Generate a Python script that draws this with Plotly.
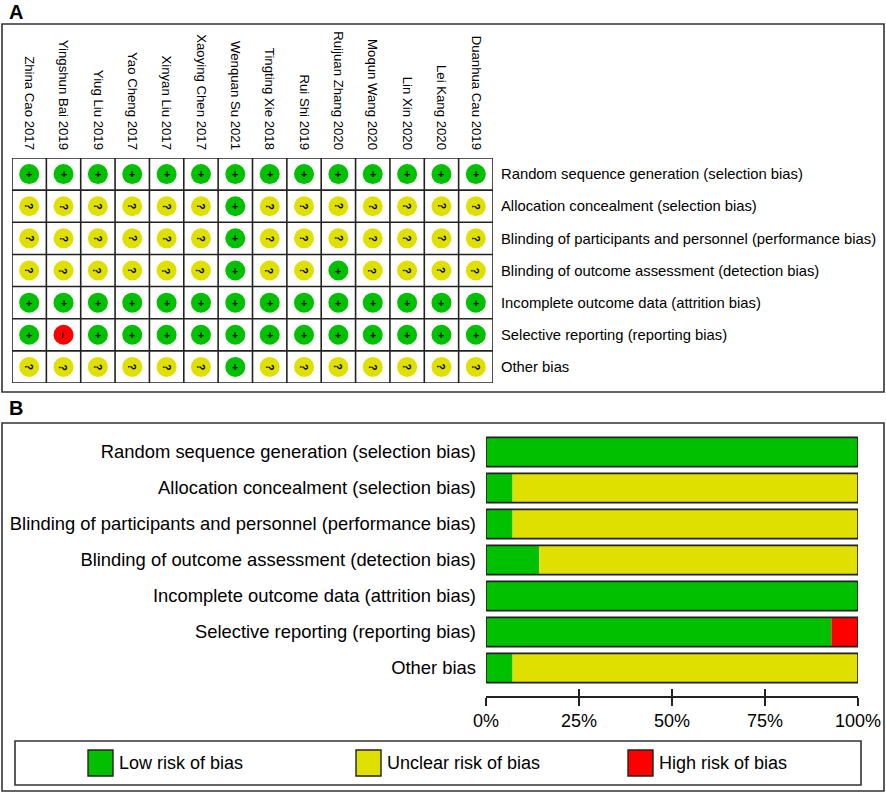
import plotly.graph_objects as go

W, H = 886, 793

studies = ["Zhina Cao 2017", "Yingshun Bai 2019", "Yiug Liu 2019", "Yao Cheng 2017",
           "Xinyan Liu 2017", "Xaoying Chen 2017", "Wenquan Su 2021", "Tingting Xie 2018",
           "Rui Shi 2019", "Ruijuan Zhang 2020", "Moqun Wang 2020", "Lin Xin 2020",
           "Lei Kang 2020", "Duanhua Cau 2019"]

domains = ["Random sequence generation (selection bias)",
           "Allocation concealment (selection bias)",
           "Blinding of participants and personnel (performance bias)",
           "Blinding of outcome assessment (detection bias)",
           "Incomplete outcome data (attrition bias)",
           "Selective reporting (reporting bias)",
           "Other bias"]

# judgements per domain, one entry per study (same order as studies)
random_seq   = list("++++++++++++++")
allocation   = list("??????+???????")
blind_part   = list("??????+???????")
blind_outc   = list("??????+??+????")
incomplete   = list("++++++++++++++")
selective    = list("+-++++++++++++")
other        = list("??????+???????")

grid = [random_seq, allocation, blind_part, blind_outc, incomplete, selective, other]

GREEN = "#00c000"
YELLOW = "#e0e000"
RED = "#ff0000"
colour = {"+": GREEN, "?": YELLOW, "-": RED}
glyph = {"+": "+", "?": "?", "-": "\u2013"}
FONT = "Liberation Sans, Arial, sans-serif"


def px(x):
    return x / W


def py(y):
    return 1 - y / H


fig = go.Figure()

# ---- panel A: traffic light grid
xs, ys, cs = [], [], []
for r, row in enumerate(grid):
    for c, v in enumerate(row):
        xs.append(c)
        ys.append(r)
        cs.append(colour[v])
fig.add_trace(go.Scatter(x=xs, y=ys, mode="markers", xaxis="x", yaxis="y",
                         marker=dict(size=20, color=cs, line=dict(width=0)),
                         hoverinfo="skip", showlegend=False))

annotations = []
for r, row in enumerate(grid):
    for c, v in enumerate(row):
        annotations.append(dict(x=c, y=r, xref="x", yref="y", text="<b>%s</b>" % glyph[v],
                                showarrow=False, textangle=0 if v == "+" else 90,
                                font=dict(family=FONT, size=10.5, color="black")))

shapes = []
for i in range(len(studies) + 1):
    shapes.append(dict(type="line", xref="x", yref="y", x0=i - 0.5, x1=i - 0.5,
                       y0=-0.5, y1=len(domains) - 0.5, line=dict(color="#222", width=1.6)))
for j in range(len(domains) + 1):
    shapes.append(dict(type="line", xref="x", yref="y", x0=-0.5, x1=len(studies) - 0.5,
                       y0=j - 0.5, y1=j - 0.5, line=dict(color="#222", width=1.6)))

# ---- panel B: summary bars (percent of studies)
n = len(studies)
low = [100 * row.count("+") / n for row in grid]
unclear = [100 * row.count("?") / n for row in grid]
high = [100 * row.count("-") / n for row in grid]

rows = list(range(len(domains)))
fig.add_trace(go.Bar(y=rows, x=low, base=[0] * len(rows), orientation="h",
                     marker=dict(color=GREEN, line=dict(width=0)),
                     xaxis="x2", yaxis="y2", showlegend=False, hoverinfo="skip"))
fig.add_trace(go.Bar(y=rows, x=unclear, base=low, orientation="h",
                     marker=dict(color=YELLOW, line=dict(width=0)),
                     xaxis="x2", yaxis="y2", showlegend=False, hoverinfo="skip"))
fig.add_trace(go.Bar(y=rows, x=high, base=[a + b for a, b in zip(low, unclear)], orientation="h",
                     marker=dict(color=RED, line=dict(width=0)),
                     xaxis="x2", yaxis="y2", showlegend=False, hoverinfo="skip"))
fig.add_trace(go.Bar(y=rows, x=[100] * len(rows), base=[0] * len(rows), orientation="h",
                     marker=dict(color="rgba(0,0,0,0)", line=dict(color="#222", width=1.6)),
                     xaxis="x2", yaxis="y2", showlegend=False, hoverinfo="skip"))

# panel frames
shapes.append(dict(type="rect", xref="paper", yref="paper", x0=px(2), x1=px(884),
                   y0=py(392), y1=py(24), line=dict(color="#333", width=1.6)))
shapes.append(dict(type="rect", xref="paper", yref="paper", x0=px(2), x1=px(884),
                   y0=py(791), y1=py(423), line=dict(color="#333", width=1.6)))
annotations.append(dict(x=px(7), y=py(12), xref="paper", yref="paper", text="<b>A</b>",
                        showarrow=False, xanchor="left", yanchor="middle",
                        font=dict(family=FONT, size=20, color="black")))
annotations.append(dict(x=px(7), y=py(408), xref="paper", yref="paper", text="<b>B</b>",
                        showarrow=False, xanchor="left", yanchor="middle",
                        font=dict(family=FONT, size=20, color="black")))

# legend box
legend_items = [("Low risk of bias", GREEN, 88), ("Unclear risk of bias", YELLOW, 356),
                ("High risk of bias", RED, 628)]
shapes.append(dict(type="rect", xref="paper", yref="paper", x0=px(15), x1=px(861),
                   y0=py(785), y1=py(741), line=dict(color="#333", width=1.6)))
for label, col, lx in legend_items:
    shapes.append(dict(type="rect", xref="paper", yref="paper", x0=px(lx), x1=px(lx + 25),
                       y0=py(776), y1=py(750), fillcolor=col, line=dict(color="#222", width=1.4)))
    annotations.append(dict(x=px(lx + 29), y=py(763), xref="paper", yref="paper", text=label,
                            showarrow=False, xanchor="left", yanchor="middle",
                            font=dict(family=FONT, size=18, color="black")))

fig.update_layout(
    template="none",
    width=W, height=H, autosize=False,
    margin=dict(l=0, r=0, t=0, b=0, pad=0),
    paper_bgcolor="white", plot_bgcolor="white",
    font=dict(family=FONT, color="black"),
    barmode="overlay", bargap=0.19,
    shapes=shapes, annotations=annotations,
    xaxis=dict(domain=[px(12), px(493)], range=[-0.5, len(studies) - 0.5], side="top",
               tickmode="array", tickvals=list(range(len(studies))), ticktext=studies,
               tickangle=90, ticks="", ticklabelstandoff=5, showgrid=False, zeroline=False,
               showline=False, tickfont=dict(size=13.2), anchor="y", automargin=False,
               fixedrange=True),
    yaxis=dict(domain=[py(383), py(158)], range=[len(domains) - 0.5, -0.5], side="right",
               tickmode="array", tickvals=rows, ticktext=domains, ticks="",
               ticklabelstandoff=7, showgrid=False, zeroline=False, showline=False,
               tickfont=dict(size=14.8), anchor="x", automargin=False, fixedrange=True),
    xaxis2=dict(domain=[px(486), px(858)], range=[0, 100], anchor="free", position=py(697),
                tickmode="array", tickvals=[0, 25, 50, 75, 100],
                ticktext=["0%", "25%", "50%", "75%", "100%"], ticks="outside", ticklen=8,
                tickwidth=1.6, tickcolor="#222", showline=True, linecolor="#222", linewidth=1.6,
                showgrid=False, zeroline=False, tickfont=dict(size=18), automargin=False,
                fixedrange=True),
    xaxis3=dict(domain=[px(486), px(858)], range=[0, 100], anchor="free", position=py(697),
                overlaying="x2", tickmode="array", tickvals=[0, 25, 50, 75, 100],
                showticklabels=False, ticks="inside", ticklen=8, tickwidth=1.6, tickcolor="#222",
                showgrid=False, zeroline=False, showline=False, automargin=False,
                fixedrange=True),
    yaxis2=dict(domain=[py(686), py(434)], range=[len(domains) - 0.5, -0.5], anchor="x2",
                tickmode="array", tickvals=rows, ticktext=domains, ticks="",
                ticklabelstandoff=9, showgrid=False, zeroline=False, showline=False,
                tickfont=dict(size=18.4), automargin=False, fixedrange=True),
)

# invisible trace so the inside-tick overlay axis is drawn
fig.add_trace(go.Scatter(x=[0], y=[0], xaxis="x3", yaxis="y2", mode="markers",
                         marker=dict(opacity=0), hoverinfo="skip", showlegend=False))

# page body has a default 8px margin; drop it so the figure sits at the window's corner
fig.write_html("out.html", config={"displayModeBar": False},
               post_script="document.body.style.margin='0';")
